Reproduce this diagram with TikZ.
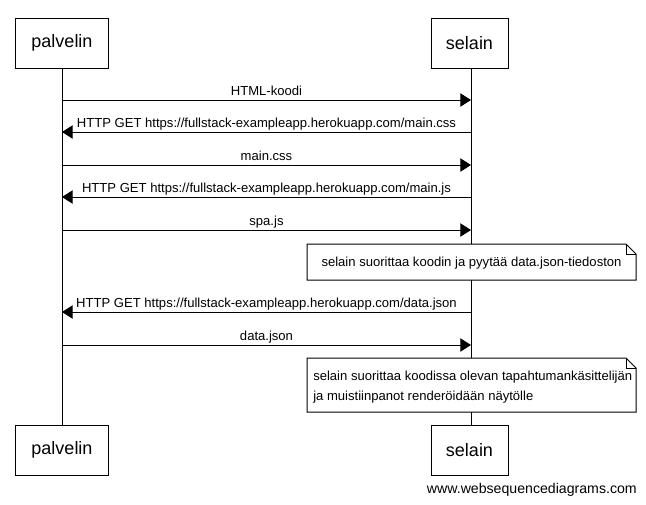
\documentclass[tikz,border=0pt]{standalone}
\usepackage{fontspec}
\setmainfont{Liberation Sans}
\usetikzlibrary{arrows.meta}
\begin{document}
\begin{tikzpicture}[x=0.75pt,y=-0.75pt,
  actor/.style={draw,line width=0.75pt,minimum height=37.5pt,inner sep=0pt,font=\fontsize{13.5}{16}\selectfont,fill=white},
  msg/.style={line width=0.75pt,-{Triangle[length=8pt,width=10pt]}},
  lbl/.style={font=\fontsize{9.8}{12}\selectfont,inner sep=0pt},
  notetxt/.style={font=\fontsize{9.8}{15}\selectfont,inner sep=0pt,align=left}]
\path[use as bounding box] (0,0) rectangle (646,504);
% lifelines
\coordinate (pt) at (62,68); \coordinate (pb) at (62,425);
\coordinate (st) at (471,68); \coordinate (sb) at (471,425);
\draw[line width=0.75pt] (pt) -- (pb);
\draw[line width=0.75pt] (st) -- (sb);
% actors
\node[actor,minimum width=69.75pt] (p1) at (62,43) {palvelin};
\node[actor,minimum width=57.75pt] (s1) at (469.5,43) {selain};
\node[actor,minimum width=69.75pt] (p2) at (62,450) {palvelin};
\node[actor,minimum width=57.75pt] (s2) at (469.5,450) {selain};
% messages
\foreach \y/\d/\t in {100/r/{HTML-koodi},132/l/{HTTP GET https:{/}{/}fullstack-exampleapp.herokuapp.com{/}main.css},165/r/{main.css},197/l/{HTTP GET https:{/}{/}fullstack-exampleapp.herokuapp.com{/}main.js},230/r/{spa.js},312/l/{HTTP GET https:{/}{/}fullstack-exampleapp.herokuapp.com{/}data.json},345/r/{data.json}}{
  \coordinate (a\y) at (62,\y); \coordinate (b\y) at (471,\y);
  \if\d r
    \draw[msg] (a\y) -- (b\y);
  \else
    \draw[msg] (b\y) -- (a\y);
  \fi
  \node[lbl,anchor=base] (m\y) at (266.5,\y-5) {\t};
}
% notes
\draw[line width=0.75pt,fill=white] (307,244) -- (626,244) -- (636,254) -- (636,280) -- (307,280) -- cycle;
\draw[line width=0.75pt] (626,244) -- (626,254) -- (636,254);
\node[lbl,anchor=base] (n1) at (471.5,266) {selain suorittaa koodin ja pyytää data.json-tiedoston};
\draw[line width=0.75pt,fill=white] (307,358) -- (626,358) -- (636,368) -- (636,412) -- (307,412) -- cycle;
\draw[line width=0.75pt] (626,358) -- (626,368) -- (636,368);
\node[notetxt,anchor=base west] (n2) at (313,400) {selain suorittaa koodissa olevan tapahtumankäsittelijän\\ja muistiinpanot renderöidään näytölle};
\node[font=\fontsize{10.6}{12}\selectfont,anchor=base east,inner sep=0pt] (wm) at (637,493) {www.websequencediagrams.com};
\end{tikzpicture}
\end{document}
